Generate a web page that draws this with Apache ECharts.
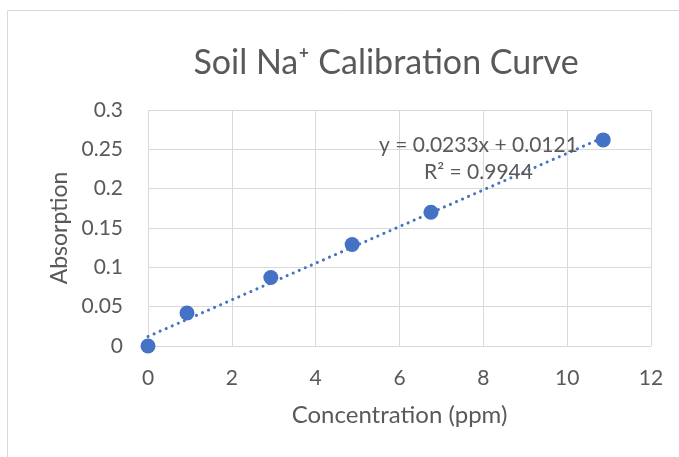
<!DOCTYPE html>
<html>
<head>
<meta charset="utf-8">
<script src="https://cdn.jsdelivr.net/npm/echarts@6/dist/echarts.min.js"></script>
<style>
  html, body { margin: 0; padding: 0; background: #fff; }
  #chart { width: 679px; height: 457px; }
</style>
</head>
<body>
<div id="chart"></div>
<script>
// concentration (ppm) vs absorption
var concentration = [0, 0.93, 2.93, 4.87, 6.75, 10.86];
var absorption = [0, 0.042, 0.087, 0.129, 0.170, 0.262];
// end points of the linear trendline as drawn
var trendX = [0, 10.86];
var trendY = [0.0121, 0.265];
var equationText = "y = 0.0233x + 0.0121";
var r2Text = "R² = 0.9944";

var font = "Lato, 'Open Sans', sans-serif";
var textColor = "#595959";

var chart = echarts.init(document.getElementById("chart"));

var points = [];
for (var i = 0; i < concentration.length; i++) {
  points.push([concentration[i], absorption[i]]);
}
var trend = [];
for (var j = 0; j < trendX.length; j++) {
  trend.push([trendX[j], trendY[j]]);
}

var option = {
  backgroundColor: "#fff",
  animation: false,
  title: {
    text: "Soil Na⁺ Calibration Curve",
    left: 381,
    textAlign: "center",
    top: 41,
    textStyle: { fontFamily: font, fontSize: 34, fontWeight: "normal", color: textColor }
  },
  grid: { left: 148, right: 28, top: 110, bottom: 111 },
  xAxis: {
    type: "value",
    min: 0, max: 12, interval: 2,
    name: "Concentration (ppm)",
    nameLocation: "middle",
    nameGap: 57,
    nameTextStyle: { fontFamily: font, fontSize: 24, color: textColor },
    axisLine: { show: true, lineStyle: { color: "#d9d9d9", width: 1 } },
    axisTick: { show: false },
    axisLabel: { fontFamily: font, fontSize: 21, color: textColor, margin: 22 },
    splitLine: { show: true, lineStyle: { color: "#d9d9d9", width: 1 } }
  },
  yAxis: {
    type: "value",
    min: 0, max: 0.3, interval: 0.05,
    name: "Absorption",
    nameLocation: "middle",
    nameGap: 74,
    nameTextStyle: { fontFamily: font, fontSize: 23, color: textColor },
    axisLine: { show: false },
    axisTick: { show: false },
    axisLabel: { fontFamily: font, fontSize: 21, color: textColor, margin: 25 },
    splitLine: { show: true, lineStyle: { color: "#d9d9d9", width: 1 } }
  },
  graphic: [
    {
      type: "rect",
      silent: true,
      shape: { x: 7.5, y: 10.5, width: 720, height: 520 },
      style: { fill: null, stroke: "#d9d9d9", lineWidth: 1 },
      z: -10
    },
    {
      type: "text",
      left: 379, top: 135,
      style: { text: equationText, font: "21px " + font, fill: textColor },
      z: 10
    },
    {
      type: "text",
      left: 424, top: 162,
      style: { text: r2Text, font: "21px " + font, fill: textColor },
      z: 10
    }
  ],
  series: [
    {
      type: "line",
      data: trend,
      symbol: "none",
      lineStyle: { color: "#4472C4", width: 3, type: [0.1, 6.5], cap: "round" },
      z: 3
    },
    {
      type: "scatter",
      data: points,
      symbol: "circle",
      symbolSize: 15,
      itemStyle: { color: "#4472C4", opacity: 1 },
      z: 2
    }
  ]
};

chart.setOption(option);
</script>
</body>
</html>
